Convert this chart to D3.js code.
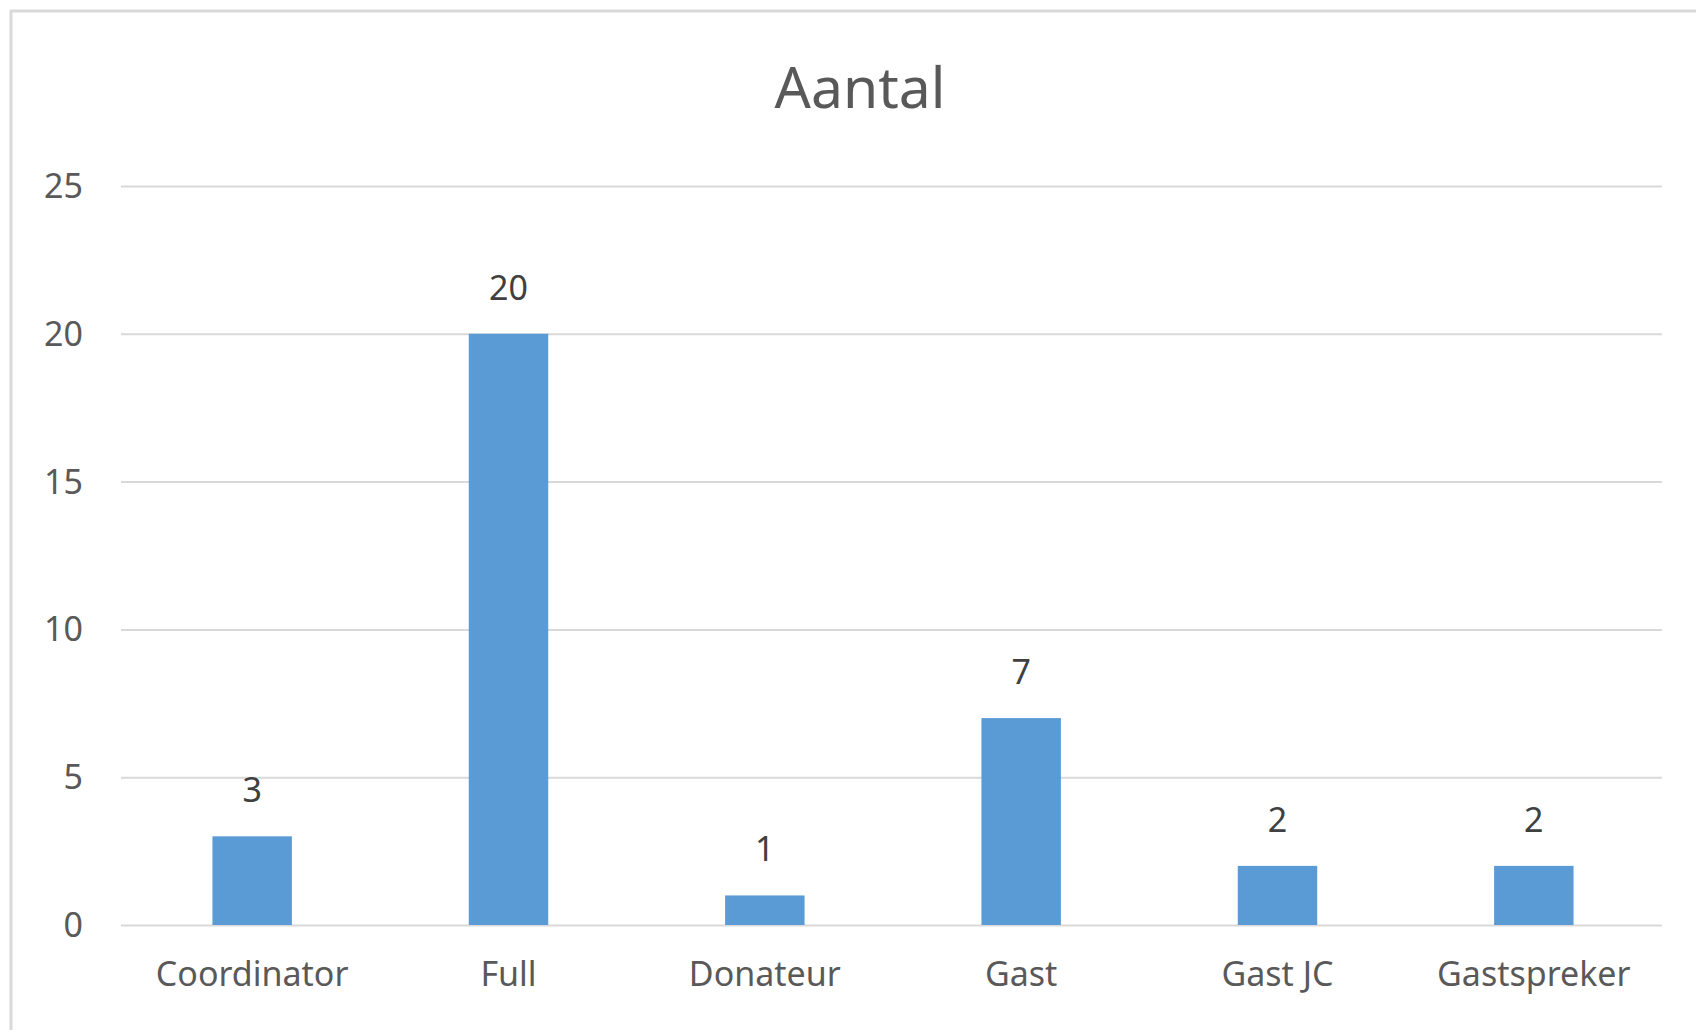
<!DOCTYPE html>
<html>
<head>
<meta charset="utf-8">
<script src="https://cdn.jsdelivr.net/npm/d3@7"></script>
<style>
  body { margin: 0; background: #fff; }
  svg { display: block; }
</style>
</head>
<body>
<div id="chart"></div>
<script>
// data
const categories = ["Coordinator", "Full", "Donateur", "Gast", "Gast JC", "Gastspreker"];
const values = [3, 20, 1, 7, 2, 2];
const yTicks = [0, 5, 10, 15, 20, 25];
const title = "Aantal";

const config = {
  width: 1696,
  height: 1030,
  left: 121,
  right: 34,
  top: 186,
  bottom: 105
};

const font = "'Noto Sans', 'Open Sans', sans-serif";
const textColor = "#595959";

const svg = d3.select("#chart")
  .append("svg")
  .attr("width", config.width)
  .attr("height", config.height);

// chart area border (only left and top fall inside the picture)
svg.append("rect")
  .attr("x", 11)
  .attr("y", 11)
  .attr("width", config.width + 20)
  .attr("height", config.height + 20)
  .attr("fill", "#fff")
  .attr("stroke", "#d9d9d9")
  .attr("stroke-width", 3);

const xScale = d3.scaleBand()
  .domain(categories)
  .range([config.left + 3, config.width - config.right])
  .paddingInner(0.69)
  .paddingOuter(0.345);

const yScale = d3.scaleLinear()
  .domain([0, 25])
  .range([config.height - config.bottom, config.top]);

// title
svg.append("text")
  .attr("x", 860)
  .attr("y", 108)
  .attr("text-anchor", "middle")
  .attr("font-family", font)
  .attr("font-size", 57)
  .attr("fill", textColor)
  .text(title);

// Y axis with gridlines
const innerWidth = config.width - config.left - config.right;
const yAxis = svg.append("g")
  .attr("transform", `translate(${config.left},0)`)
  .call(d3.axisLeft(yScale)
    .tickValues(yTicks)
    .tickSize(-innerWidth)
    .tickPadding(38));
yAxis.select(".domain").remove();
yAxis.selectAll(".tick line")
  .attr("stroke", "#d9d9d9")
  .attr("stroke-width", 2);
yAxis.selectAll(".tick text")
  .attr("font-family", font)
  .attr("font-size", 34)
  .attr("fill", textColor)
  .attr("dy", "0.34em");

// X axis labels
const xAxis = svg.append("g")
  .attr("transform", `translate(0,${yScale(0)})`)
  .call(d3.axisBottom(xScale).tickSize(0).tickPadding(44));
xAxis.select(".domain").remove();
xAxis.selectAll(".tick text")
  .attr("font-family", font)
  .attr("font-size", 34)
  .attr("fill", textColor)
  .attr("dy", "0.5em");

// bars
svg.selectAll("rect.bar")
  .data(values)
  .enter()
  .append("rect")
  .attr("class", "bar")
  .attr("x", (d, i) => xScale(categories[i]))
  .attr("y", d => yScale(d))
  .attr("width", xScale.bandwidth())
  .attr("height", d => yScale(0) - yScale(d))
  .attr("fill", "#5b9bd5");

// data labels
svg.selectAll("text.label")
  .data(values)
  .enter()
  .append("text")
  .attr("class", "label")
  .attr("x", (d, i) => xScale(categories[i]) + xScale.bandwidth() / 2)
  .attr("y", d => yScale(d) - 34)
  .attr("text-anchor", "middle")
  .attr("font-family", font)
  .attr("font-size", 34)
  .attr("fill", "#404040")
  .text(d => d);
</script>
</body>
</html>
